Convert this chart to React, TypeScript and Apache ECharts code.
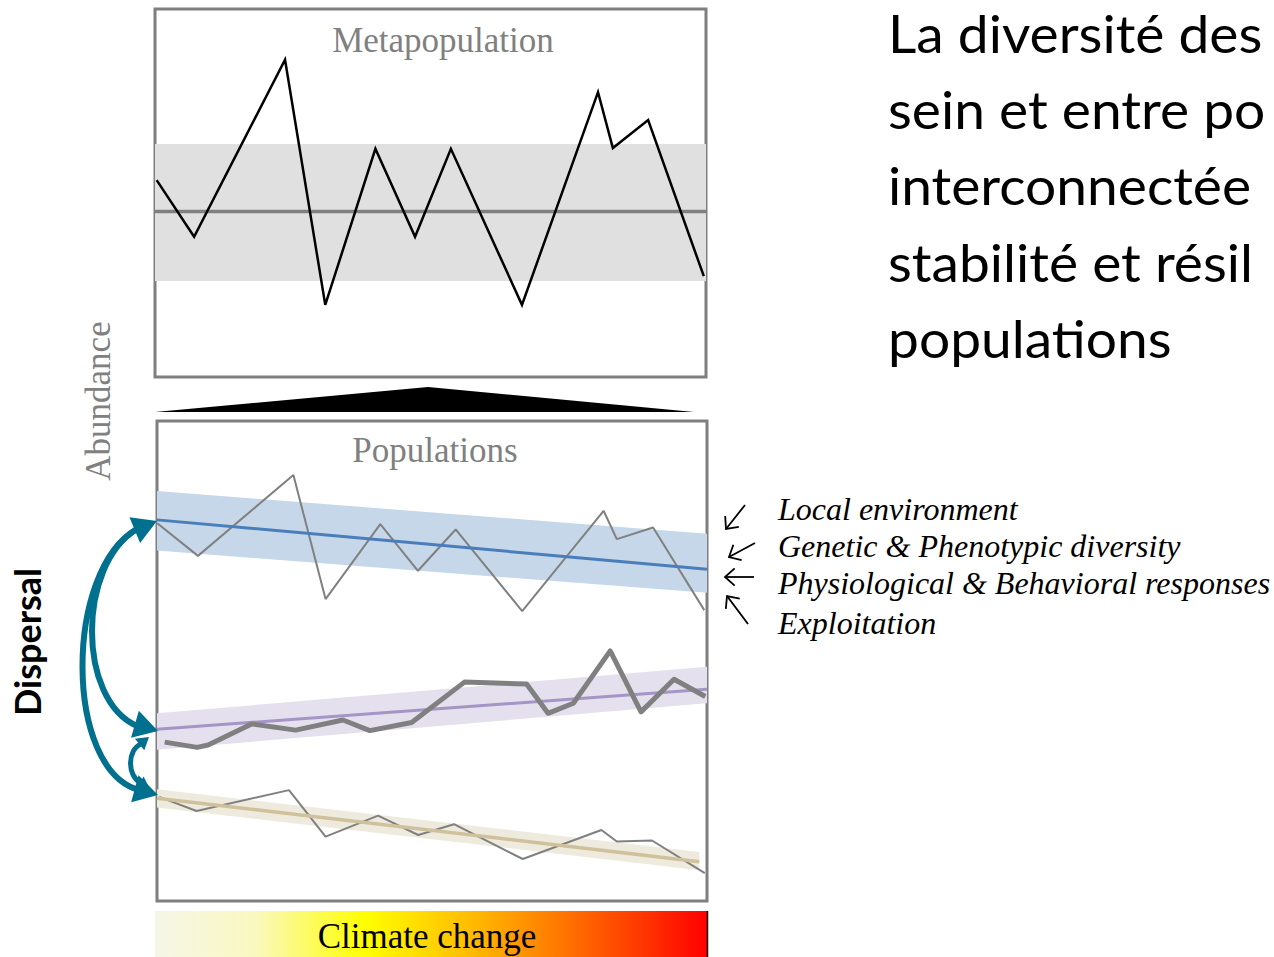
import React, { useEffect, useRef } from "react";
import * as echarts from "echarts";

// ---------- data ----------
// top panel (metapopulation), x in time units 0..100, y abundance 0..100
const metaX = [0.3, 7.1, 23.6, 30.9, 40, 47.2, 53.7, 66.6, 80.4, 83.1, 89.5, 99.6];
const metaY = [53.5, 38.1, 86.2, 19.6, 62, 38.1, 62, 19.6, 77.4, 62.2, 69.8, 27.4];
const metaBand = [26.1, 63.3];
const metaMean = 45;

// bottom panel (populations)
const pop1X = [0.05, 7.45, 24.8, 30.65, 40.6, 47.45, 54.3, 66.4, 81.2, 83.6, 90.2, 99.5];
const pop1Y = [78.7, 71.9, 88.75, 62.9, 78.5, 68.8, 77.4, 60.4, 81.3, 75.4, 77.8, 60.6];
const pop2X = [1.4, 7.3, 9.3, 17.2, 25.2, 33.8, 38.7, 46.3, 55.9, 67.2, 71.1, 75.7, 82.4, 88, 94, 99.7];
const pop2Y = [33.1, 32, 32.5, 36.9, 35.6, 37.7, 35.5, 37.2, 45.6, 45.2, 39.1, 41.2, 52.1, 39.4, 46.2, 42.6];
const pop3X = [0.4, 7.2, 24, 30.65, 40.2, 47.5, 54, 66.5, 80.8, 83.6, 90, 99.6];
const pop3Y = [21.7, 18.75, 23.1, 13.4, 17.8, 13.75, 16, 8.75, 14.8, 12.4, 12.6, 5.8];

// trends: [start, end]
const trendX = [0, 100];
const blueTrend = [79.4, 69.1];
const blueUpper = [85.4, 76.5];
const blueLower = [73, 64.2];
const purpleTrend = [35.8, 44.1];
const purpleUpper = [39.1, 48.8];
const purpleLower = [31.5, 41.2];
const tanX = [0, 98.6];
const tanTrend = [21.4, 8.2];
const tanUpper = [23.3, 10.2];
const tanLower = [19.5, 6.4];

const titleLines = [
  "La diversité des",
  "sein et entre po",
  "interconnectée",
  "stabilité et résil",
  "populations",
];
const drivers = [
  "Local environment",
  "Genetic & Phenotypic diversity",
  "Physiological & Behavioral responses",
  "Exploitation",
];

// ---------- helpers ----------
const pts = (xs: number[], ys: number[]) => xs.map((x, i) => [x, ys[i]]);

function arrowHead(tx: number, ty: number, dx: number, dy: number, len: number, w: number) {
  const n = Math.hypot(dx, dy);
  const ux = dx / n, uy = dy / n;
  const bx = tx - ux * len, by = ty - uy * len;
  const px = -uy, py = ux;
  return [
    [tx, ty],
    [bx + (px * w) / 2, by + (py * w) / 2],
    [bx - (px * w) / 2, by - (py * w) / 2],
  ];
}

function lineArrow(x1: number, y1: number, x2: number, y2: number) {
  const a = Math.atan2(y1 - y2, x1 - x2);
  const L = 13, s = (42 * Math.PI) / 180;
  const h1 = [x2 + L * Math.cos(a + s), y2 + L * Math.sin(a + s)];
  const h2 = [x2 + L * Math.cos(a - s), y2 + L * Math.sin(a - s)];
  const st = { stroke: "#000", lineWidth: 1.8, fill: null };
  return [
    { type: "line", shape: { x1, y1, x2, y2 }, style: st },
    { type: "polyline", shape: { points: [h1, [x2, y2], h2] }, style: st },
  ];
}

function bandSeries(xs: number[], lower: number[], upper: number[], color: string, gi: number) {
  return {
    type: "custom",
    coordinateSystem: "cartesian2d",
    xAxisIndex: gi,
    yAxisIndex: gi,
    silent: true,
    z: 1,
    encode: { x: [0, 3], y: [1, 2, 4, 5] },
    data: [[xs[0], lower[0], upper[0], xs[1], lower[1], upper[1]]],
    renderItem: (params: any, api: any) => {
      const a = api.coord([api.value(0), api.value(1)]);
      const b = api.coord([api.value(0), api.value(2)]);
      const c = api.coord([api.value(3), api.value(5)]);
      const d = api.coord([api.value(3), api.value(4)]);
      return { type: "polygon", shape: { points: [a, b, c, d] }, style: { fill: color } };
    },
  };
}

const TEAL = "#00708f";
const GRAY = "#808080";

export default function App() {
  const ref = useRef<HTMLDivElement>(null);
  useEffect(() => {
    if (!ref.current) return;
    const chart = echarts.init(ref.current, null, { renderer: "svg" });

    const axisHidden = { show: false, min: 0, max: 100 };

    const graphics: any[] = [];
    // titles
    graphics.push({
      type: "text", x: 443, y: 40, z: 10,
      style: { text: "Metapopulation", font: '35px "Liberation Serif"', fill: GRAY, textAlign: "center", textVerticalAlign: "middle" },
    });
    graphics.push({
      type: "text", x: 435, y: 450, z: 10,
      style: { text: "Populations", font: '35px "Liberation Serif"', fill: GRAY, textAlign: "center", textVerticalAlign: "middle" },
    });
    graphics.push({
      type: "text", x: 98, y: 401, rotation: Math.PI / 2,
      style: { text: "Abundance", font: '35px "Liberation Serif"', fill: GRAY, textAlign: "center", textVerticalAlign: "middle" },
    });
    graphics.push({
      type: "text", x: 27, y: 642, rotation: Math.PI / 2,
      style: { text: "Dispersal", font: 'bold 36px Lato', fill: "#000", textAlign: "center", textVerticalAlign: "middle" },
    });
    // triangle
    graphics.push({
      type: "polygon",
      shape: { points: [[155, 412], [428, 387], [694, 412]] },
      style: { fill: "#000" },
    });
    // climate change bar
    graphics.push({
      type: "rect",
      shape: { x: 155, y: 911, width: 553, height: 50 },
      style: {
        fill: new echarts.graphic.LinearGradient(0, 0, 1, 0, [
          { offset: 0, color: "#f6f6e8" },
          { offset: 0.18, color: "#faf8c0" },
          { offset: 0.38, color: "#ffff00" },
          { offset: 0.58, color: "#ffb800" },
          { offset: 0.8, color: "#ff5a00" },
          { offset: 1, color: "#ff0000" },
        ]),
      },
    });
    graphics.push({ type: "line", shape: { x1: 707.5, y1: 911, x2: 707.5, y2: 957 }, style: { stroke: "#000", lineWidth: 1.5 } });
    graphics.push({
      type: "text", x: 427, y: 936,
      style: { text: "Climate change", font: '35px "Liberation Serif"', fill: "#000", textAlign: "center", textVerticalAlign: "middle" },
    });
    // right heading
    const base = [53, 129, 205, 282, 358];
    titleLines.forEach((t, i) => {
      graphics.push({
        type: "text", x: 888, y: base[i] - 20.5, scaleX: 1.04,
        style: { text: t, font: '53px Lato', lineHeight: 53, fill: "#000", textAlign: "left", textVerticalAlign: "middle" },
      });
    });
    // driver labels
    const dy = [509, 546, 583, 623];
    drivers.forEach((t, i) => {
      graphics.push({
        type: "text", x: 778, y: dy[i],
        style: { text: t, font: 'italic 32px "Liberation Serif"', fill: "#000", textAlign: "left", textVerticalAlign: "middle" },
      });
    });
    graphics.push(...lineArrow(745, 505, 726, 529));
    graphics.push(...lineArrow(755, 543, 729, 557));
    graphics.push(...lineArrow(754, 577, 725, 577));
    graphics.push(...lineArrow(748, 624, 727, 596));

    // dispersal arrows
    const tealStroke = { stroke: TEAL, lineWidth: 6, fill: null, lineCap: "butt" };
    graphics.push({
      type: "bezierCurve", z: 20,
      shape: { x1: 137, y1: 529, cpx1: 64, cpy1: 570, cpx2: 64, cpy2: 770, x2: 139, y2: 790 },
      style: tealStroke,
    });
    graphics.push({
      type: "bezierCurve", z: 20,
      shape: { x1: 137, y1: 529, cpx1: 77, cpy1: 565, cpx2: 77, cpy2: 700, x2: 137, y2: 726 },
      style: tealStroke,
    });
    graphics.push({
      type: "bezierCurve", z: 20,
      shape: { x1: 141, y1: 744, cpx1: 127, cpy1: 750, cpx2: 127, cpy2: 776, x2: 141, y2: 783 },
      style: { ...tealStroke, lineWidth: 5 },
    });
    const heads = [
      arrowHead(157, 521, 19.5, -8, 24, 28),
      arrowHead(158, 731, 20.7, 6, 24, 28),
      arrowHead(158, 795, 18.4, 5, 24, 28),
      arrowHead(149, 737, 10, -8, 12, 15),
      arrowHead(150, 789, 10, 6, 12, 15),
    ];
    heads.forEach((p) => graphics.push({ type: "polygon", z: 21, shape: { points: p }, style: { fill: TEAL } }));

    const option: any = {
      animation: false,
      backgroundColor: "#ffffff",
      grid: [
        { left: 155, top: 9, width: 551, height: 368, show: true, borderColor: "#7f7f7f", borderWidth: 3, backgroundColor: "transparent" },
        { left: 157, top: 421, width: 550, height: 480, show: true, borderColor: "#7f7f7f", borderWidth: 3, backgroundColor: "transparent" },
      ],
      xAxis: [
        { type: "value", gridIndex: 0, ...axisHidden },
        { type: "value", gridIndex: 1, ...axisHidden },
      ],
      yAxis: [
        { type: "value", gridIndex: 0, ...axisHidden },
        { type: "value", gridIndex: 1, ...axisHidden },
      ],
      series: [
        {
          type: "line", xAxisIndex: 0, yAxisIndex: 0, symbol: "none", silent: true, z: 2,
          data: [[0, metaMean], [100, metaMean]],
          lineStyle: { color: GRAY, width: 3.5 },
          markArea: { silent: true, itemStyle: { color: "#e0e0e0" }, data: [[{ yAxis: metaBand[0] }, { yAxis: metaBand[1] }]] },
        },
        {
          type: "line", xAxisIndex: 0, yAxisIndex: 0, symbol: "none", silent: true, z: 3,
          data: pts(metaX, metaY), lineStyle: { color: "#000", width: 2.5, join: "miter" },
        },
        bandSeries(trendX, blueLower, blueUpper, "#c5d7e9", 1),
        bandSeries(trendX, purpleLower, purpleUpper, "#e5e0ee", 1),
        bandSeries(tanX, tanLower, tanUpper, "#eeeadd", 1),
        {
          type: "line", xAxisIndex: 1, yAxisIndex: 1, symbol: "none", silent: true, z: 3,
          data: pts(pop1X, pop1Y), lineStyle: { color: GRAY, width: 2 },
        },
        {
          type: "line", xAxisIndex: 1, yAxisIndex: 1, symbol: "none", silent: true, z: 4,
          data: pts(trendX, blueTrend), lineStyle: { color: "#4a7ebb", width: 3 },
        },
        {
          type: "line", xAxisIndex: 1, yAxisIndex: 1, symbol: "none", silent: true, z: 3,
          data: pts(trendX, purpleTrend), lineStyle: { color: "#a594c6", width: 3 },
        },
        {
          type: "line", xAxisIndex: 1, yAxisIndex: 1, symbol: "none", silent: true, z: 4,
          data: pts(pop2X, pop2Y), lineStyle: { color: GRAY, width: 5, join: "round" },
        },
        {
          type: "line", xAxisIndex: 1, yAxisIndex: 1, symbol: "none", silent: true, z: 3,
          data: pts(pop3X, pop3Y), lineStyle: { color: GRAY, width: 2 },
        },
        {
          type: "line", xAxisIndex: 1, yAxisIndex: 1, symbol: "none", silent: true, z: 4,
          data: pts(tanX, tanTrend), lineStyle: { color: "#cfc19b", width: 3.5 },
        },
      ],
      graphic: { elements: graphics },
    };
    chart.setOption(option);
    return () => chart.dispose();
  }, []);
  return (
    <div
      ref={ref}
      style={{ position: "fixed", left: 0, top: 0, width: 1274, height: 957, background: "#fff" }}
    />
  );
}
